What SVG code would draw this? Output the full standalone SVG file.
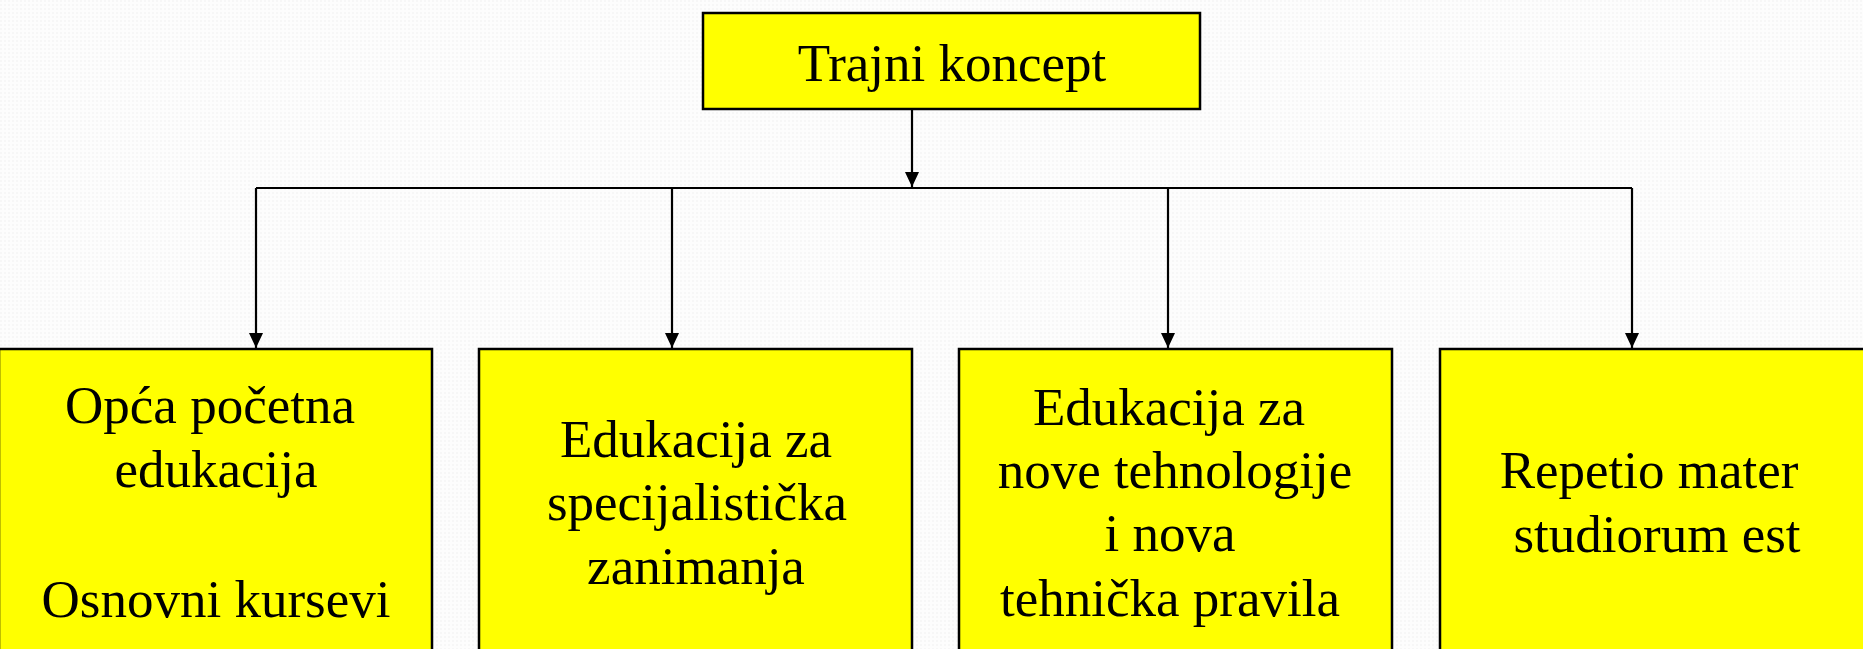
<svg xmlns="http://www.w3.org/2000/svg" width="1863" height="649" viewBox="0 0 1863 649">
<style>
.box{fill:#ffff00;stroke:#000;stroke-width:2.5}
.t{font-family:"Liberation Serif","Times New Roman",serif;font-size:53px;fill:#000;text-anchor:middle}
.c{fill:none;stroke:#000;stroke-width:2.2}
</style>
<defs>
<marker id="ah" markerWidth="15" markerHeight="14" refX="15" refY="7" orient="auto" markerUnits="userSpaceOnUse">
<path d="M0,0 L15,7 L0,14 Z" fill="#000"/>
</marker>
<pattern id="bg" width="4" height="4" patternUnits="userSpaceOnUse">
<rect width="4" height="4" fill="#fdfdfd"/>
<rect width="2" height="2" fill="#f7f7f7"/>
</pattern>
</defs>
<rect width="1863" height="649" fill="url(#bg)"/>
<g id="connectors">
<path class="c" d="M912,109 V187" marker-end="url(#ah)"/>
<path class="c" d="M256,188 H1632"/>
<path class="c" d="M256,188 V348" marker-end="url(#ah)"/>
<path class="c" d="M672,188 V348" marker-end="url(#ah)"/>
<path class="c" d="M1168,188 V348" marker-end="url(#ah)"/>
<path class="c" d="M1632,188 V348" marker-end="url(#ah)"/>
</g>
<g id="node-top">
<rect class="box" x="703" y="13" width="497" height="96"/>
<text class="t" x="952" y="81">Trajni koncept</text>
</g>
<g id="node-1">
<rect class="box" x="-1" y="349" width="433" height="320"/>
<text class="t" x="210" y="423">Opća početna</text>
<text class="t" x="216" y="487">edukacija</text>
<text class="t" x="216" y="617">Osnovni kursevi</text>
</g>
<g id="node-2">
<rect class="box" x="479" y="349" width="433" height="320"/>
<text class="t" x="696" y="457">Edukacija za</text>
<text class="t" x="697" y="520">specijalistička</text>
<text class="t" x="696" y="584">zanimanja</text>
</g>
<g id="node-3">
<rect class="box" x="959" y="349" width="433" height="320"/>
<text class="t" x="1169" y="425">Edukacija za</text>
<text class="t" x="1175" y="488">nove tehnologije</text>
<text class="t" x="1170" y="551">i nova</text>
<text class="t" x="1170" y="616">tehnička pravila</text>
</g>
<g id="node-4">
<rect class="box" x="1440" y="349" width="433" height="320"/>
<text class="t" x="1649" y="488">Repetio mater</text>
<text class="t" x="1657" y="552">studiorum est</text>
</g>
</svg>
